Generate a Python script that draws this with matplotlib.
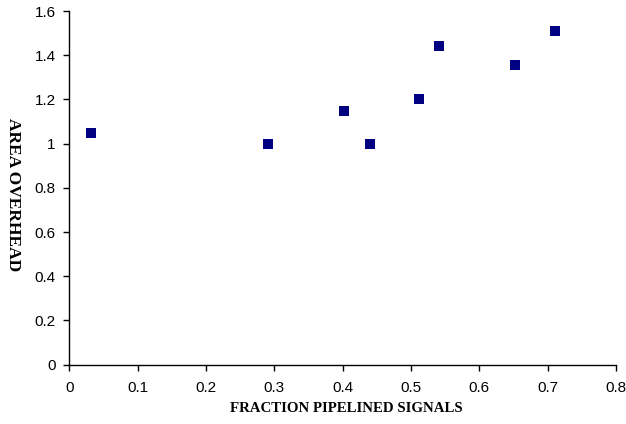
import matplotlib
matplotlib.use('Agg')
import matplotlib.pyplot as plt

# Werte
fraction_pipelined = [0.032, 0.291, 0.402, 0.440, 0.512, 0.541, 0.652, 0.711]
area_overhead = [1.047, 0.997, 1.147, 0.997, 1.201, 1.443, 1.356, 1.508]

x_ticks = [0, 0.1, 0.2, 0.3, 0.4, 0.5, 0.6, 0.7, 0.8]
x_labels = ['0', '0.1', '0.2', '0.3', '0.4', '0.5', '0.6', '0.7', '0.8']
y_ticks = [0, 0.2, 0.4, 0.6, 0.8, 1.0, 1.2, 1.4, 1.6]
y_labels = ['0', '0.2', '0.4', '0.6', '0.8', '1', '1.2', '1.4', '1.6']

fig = plt.figure(figsize=(6.26, 4.24), dpi=100)
ax = fig.add_axes([0.111, 0.140, 0.873, 0.834])

ax.scatter(fraction_pipelined, area_overhead, marker='s', s=44,
           color='#000080', linewidths=0, zorder=3, clip_on=False)

ax.set_xlim(0, 0.8)
ax.set_ylim(0, 1.6)
ax.set_xticks(x_ticks)
ax.set_xticklabels(x_labels)
ax.set_yticks(y_ticks)
ax.set_yticklabels(y_labels)

for side in ['top', 'right']:
    ax.spines[side].set_visible(False)
for side in ['left', 'bottom']:
    ax.spines[side].set_linewidth(1.0)
    ax.spines[side].set_color('black')

ax.tick_params(direction='out', length=4, width=1, colors='black',
               labelsize=11)
for lab in ax.get_xticklabels() + ax.get_yticklabels():
    lab.set_fontfamily('Liberation Sans')
ax.tick_params(axis='x', pad=8)
ax.tick_params(axis='y', pad=6)

# Achsenbeschriftungen
fig.text(346.5 / 626, 1 - 409 / 424, 'FRACTION PIPELINED SIGNALS',
         fontfamily='Liberation Serif', fontweight='bold', fontsize=10.7,
         ha='center', va='center')
fig.text(13 / 626, 1 - 195 / 424, 'AREA OVERHEAD',
         fontfamily='Liberation Serif', fontweight='bold', fontsize=12.5,
         rotation=270, ha='center', va='center')

fig.savefig('out.png', dpi=100)
